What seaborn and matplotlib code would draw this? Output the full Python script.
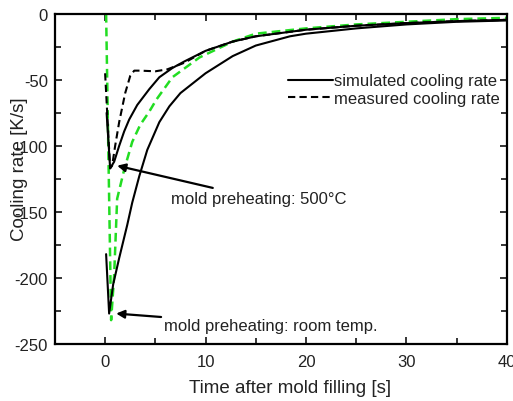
import matplotlib
matplotlib.use("Agg")
import matplotlib.pyplot as plt
from matplotlib.ticker import MultipleLocator
import seaborn as sns

# simulated, mold preheating 500 C
t_sim_500 = [0.15, 0.5, 0.9, 1.4, 1.9, 2.4, 3.2, 4.4, 5.4, 6.7, 7.9, 10, 12.7, 15, 20, 25, 30, 35, 40]
v_sim_500 = [-75, -117, -112, -100, -89, -80, -69, -57, -48, -41, -36, -28, -21, -17, -12, -9, -7, -5.5, -4.5]

# measured, mold preheating 500 C
t_meas_500 = [0.0, 0.5, 0.7, 1.0, 1.4, 2.0, 2.5, 2.9, 3.5, 5.0, 6.2, 7.9, 10, 12.7, 15, 20, 25, 30, 35, 40]
v_meas_500 = [-45, -117, -115, -100, -82, -60, -47, -43, -43, -43.5, -42, -37, -28, -21, -17, -12, -9, -7, -5.5, -4.5]

# simulated, mold at room temperature
t_sim_rt = [0.1, 0.4, 0.8, 1.4, 2.2, 2.7, 3.4, 4.2, 5.4, 6.4, 7.5, 10, 12.7, 15, 18.4, 20, 25, 30, 35, 40]
v_sim_rt = [-182, -227, -205, -185, -160, -143, -123, -103, -82, -70, -60, -45, -32, -24, -17, -15, -11, -8, -6, -5]

# measured, mold at room temperature (green)
t_meas_rt = [0.1, 0.6, 0.9, 1.2, 1.9, 2.7, 3.5, 4.4, 5.1, 6.7, 9.4, 12.7, 15, 20, 25, 30, 35, 40]
v_meas_rt = [0, -232, -198, -140, -118, -97, -84, -74, -65, -48, -33, -21, -15, -11, -8, -6, -4, -3]

sns.set_style("ticks")
plt.rcParams['font.family'] = ['Liberation Sans', 'DejaVu Sans']
plt.rcParams['axes.unicode_minus'] = False
txt = '#222222'

fig = plt.figure(figsize=(5.13, 4.02), dpi=100)
ax = fig.add_axes([0.107, 0.142, 0.881, 0.821])

green = '#22dd22'
sns.lineplot(x=t_meas_rt, y=v_meas_rt, ax=ax, color=green, lw=1.8,
             linestyle=(0, (3.5, 2)), sort=False, estimator=None)
sns.lineplot(x=t_sim_rt, y=v_sim_rt, ax=ax, color='black', lw=1.5,
             sort=False, estimator=None)
sns.lineplot(x=t_sim_500, y=v_sim_500, ax=ax, color='black', lw=1.5,
             sort=False, estimator=None, label='simulated cooling rate')
sns.lineplot(x=t_meas_500, y=v_meas_500, ax=ax, color='black', lw=1.5,
             linestyle=(0, (3.5, 2)), sort=False, estimator=None,
             label='measured cooling rate')

ax.set_xlim(-5, 40)
ax.set_ylim(-250, 0)
ax.xaxis.set_major_locator(MultipleLocator(10))
ax.xaxis.set_minor_locator(MultipleLocator(5))
ax.yaxis.set_major_locator(MultipleLocator(50))
ax.yaxis.set_minor_locator(MultipleLocator(25))
ax.tick_params(which='both', direction='in', top=True, right=True,
               width=1.3, labelsize=12, labelcolor=txt)
ax.tick_params(which='major', length=5)
ax.tick_params(which='minor', length=4)
ax.tick_params(axis='x', pad=7)
ax.tick_params(axis='y', pad=5)
for s in ax.spines.values():
    s.set_linewidth(1.6)
    s.set_color('black')

ax.set_xlabel('Time after mold filling [s]', fontsize=13.5, color=txt)
ax.set_ylabel('Cooling rate [K/s]', fontsize=13.5, color=txt)
ax.xaxis.set_label_coords(0.52, -0.105)
ax.yaxis.set_label_coords(-0.06, 0.533)

leg = ax.legend(loc='upper right', bbox_to_anchor=(1.0, 0.84), frameon=False,
                fontsize=12, handlelength=2.7, handletextpad=0.1,
                borderaxespad=0.0, labelspacing=0.15)
for t in leg.get_texts():
    t.set_color(txt)

arrow = dict(arrowstyle='-|>', color='black', lw=1.6, mutation_scale=12,
             shrinkA=0, shrinkB=0)
ax.annotate('mold preheating: 500°C', xy=(1.2, -115), xytext=(6.6, -140),
            fontsize=12, color=txt, va='center', ha='left', arrowprops=arrow)
ax.annotate('mold preheating: room temp.', xy=(1.1, -227), xytext=(5.9, -236),
            fontsize=12, color=txt, va='center', ha='left', arrowprops=arrow)

fig.savefig('out.png', dpi=100)
